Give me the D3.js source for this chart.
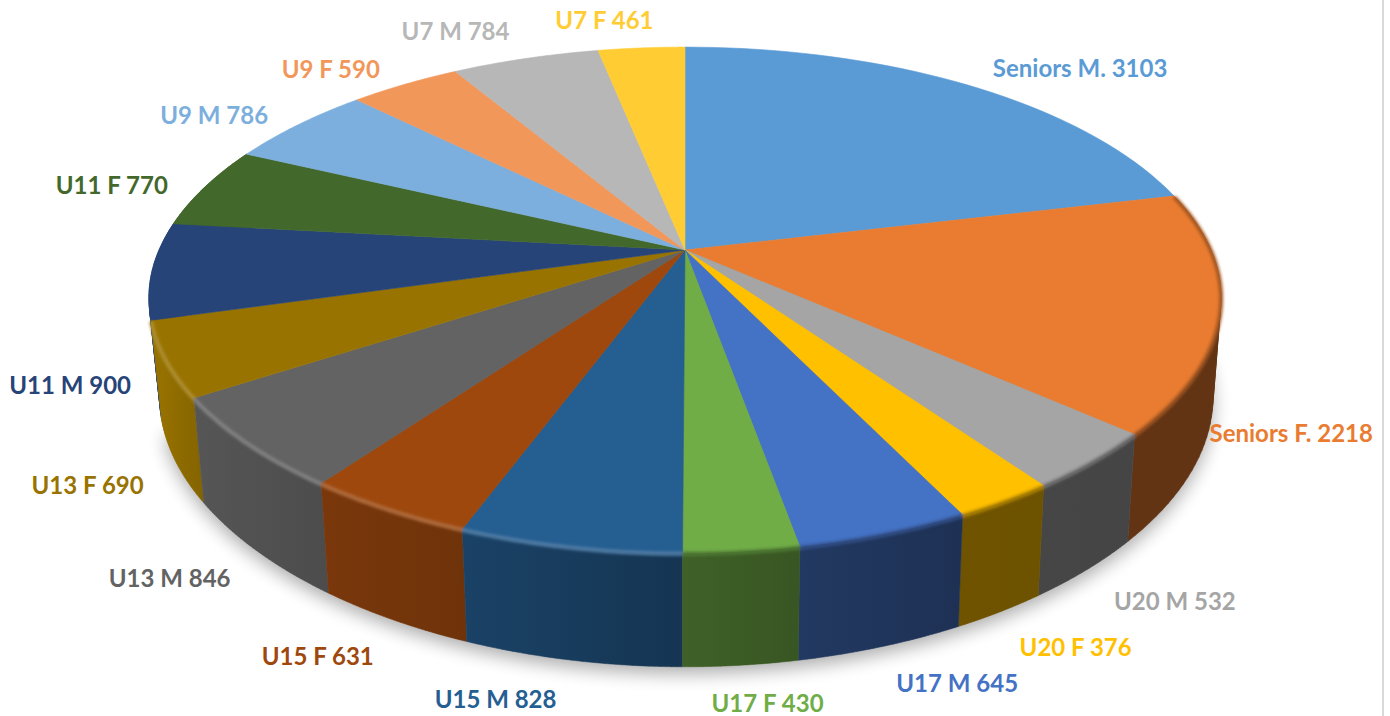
<!DOCTYPE html>
<html>
<head>
<meta charset="utf-8">
<script src="https://cdn.jsdelivr.net/npm/d3@7"></script>
<style>
    html, body { margin: 0; padding: 0; background: #fff; overflow: hidden; }
    text { font-family: Lato, "Open Sans", sans-serif; font-weight: 700; }
</style>
</head>
<body>
<div id="chart"></div>
<script>
// data, clockwise from 12 o'clock
const categories = ["Seniors M.", "Seniors F.", "U20 M", "U20 F", "U17 M", "U17 F", "U15 M", "U15 F",
    "U13 M", "U13 F", "U11 M", "U11 F", "U9 M", "U9 F", "U7 M", "U7 F"];
const players = [3103, 2218, 532, 376, 645, 430, 828, 631, 846, 690, 900, 770, 786, 590, 784, 461];
const colors = ["#5b9bd5", "#e97c30", "#a5a5a5", "#ffc000", "#4472c4", "#70ad47", "#255e91", "#9e480e",
    "#636363", "#997300", "#264478", "#43682b", "#7cafdd", "#f1975a", "#b7b7b7", "#ffcd33"];

// label offset from the middle of each slice's rim
const labelNudge = [[113, -16], [71, 122], [82, 140], [71, 147], [73, 150], [26, 152], [-74, 153], [-70, 148],
    [-78, 136], [-78, 126], [-82, 115], [-93, -2], [-84, -9], [-74, -15], [-70, -27], [-37, -27]];

const width = 1390, height = 716;

// perspective of the pie disc
const cx = 685, cy = 250, scaleX = 526, scaleY = 243, persp = 0.1976;
// bottom edge of the wall, relative to the rim
const wallScaleLeft = 0.98, wallScaleRight = 0.985, wallScaleY = 1.058, wallTop = 346.4;

function rim(a) {
    let u = Math.sin(a), v = -Math.cos(a), w = 1 - persp * v;
    // front of the disc is a bit narrower than plain perspective gives
    let squeeze = v > 0 ? 1 - 0.025 * v * v : 1;
    return [cx + scaleX * u * squeeze / w, cy + scaleY * v / w];
}

function low(a) {
    let p = rim(a);
    let k = p[0] < cx ? wallScaleLeft : wallScaleRight;
    return [cx + (p[0] - cx) * k, wallTop + (p[1] - cy) * wallScaleY];
}

function samples(d) {
    return d3.range(0, 41).map(i => d.startAngle + (d.endAngle - d.startAngle) * i / 40);
}

// wall gets darker from the left of the pie round to the right
const wallShade = d3.scaleLinear()
    .domain([0, 2.4, 2.8, 3.14, 3.6, 4.0, 4.4, 6.3])
    .range([0.42, 0.42, 0.44, 0.56, 0.74, 0.8, 0.98, 0.98])
    .clamp(true);

function shaded(color, k) {
    let c = d3.rgb(color);
    return d3.rgb(c.r * k, c.g * k, c.b * k).formatHex();
}

const svg = d3.select("#chart").append("svg")
    .attr("width", width)
    .attr("height", height);

const defs = svg.append("defs");

defs.append("filter").attr("id", "shadowBlur")
    .attr("x", "-10%").attr("y", "-10%").attr("width", "120%").attr("height", "120%")
    .append("feGaussianBlur").attr("stdDeviation", 9);

defs.append("filter").attr("id", "bevelBlur")
    .attr("x", "-10%").attr("y", "-10%").attr("width", "120%").attr("height", "120%")
    .append("feGaussianBlur").attr("stdDeviation", 1.8);

const slices = d3.pie().sort(null).value(d => d)(players);

const line = d3.line();

// thin rule down the right edge of the picture
svg.append("rect")
    .attr("x", 1382)
    .attr("y", 0)
    .attr("width", 2)
    .attr("height", height)
    .attr("fill", "#d9d9d9");

// soft shadow under the pie, front half only shows
const shadowTurn = d3.range(0, 121).map(i => 1.3 + i / 120 * 3.1);
svg.append("path")
    .attr("d", line(shadowTurn.map(low).map(p => [p[0], p[1] + 7]).concat([[cx, cy]])) + "Z")
    .attr("fill", "#000")
    .attr("opacity", 0.32)
    .attr("filter", "url(#shadowBlur)");

// walls, only the slices that face the viewer, outer ones first
const fromFront = a => Math.abs((a.startAngle + a.endAngle) / 2 - Math.PI);
const frontSlices = slices.filter(d => fromFront(d) < 1.9);
frontSlices.sort((a, b) => fromFront(b) - fromFront(a)).forEach(d => {
    let i = d.index;
    let id = "wall" + i;
    let x1 = low(d.startAngle)[0], x2 = low(d.endAngle)[0];
    let grad = defs.append("linearGradient").attr("id", id)
        .attr("gradientUnits", "userSpaceOnUse")
        .attr("x1", x1).attr("x2", x2 === x1 ? x1 + 1 : x2).attr("y1", 0).attr("y2", 0);
    grad.append("stop").attr("offset", 0).attr("stop-color", shaded(colors[i], wallShade(d.startAngle)));
    grad.append("stop").attr("offset", 1).attr("stop-color", shaded(colors[i], wallShade(d.endAngle)));

    // swept in small quads so the silhouette at the sides stays filled,
    // all wound the same way so one path covers them without seams
    let as = samples(d);
    let quads = as.slice(1).map((a, k) => {
        let quad = [rim(as[k]), rim(a), low(a), low(as[k])];
        if (d3.polygonArea(quad) < 0) quad.reverse();
        return line(quad) + "Z";
    });
    svg.append("path")
        .attr("class", "wall")
        .attr("d", quads.join(""))
        .attr("fill", "url(#" + id + ")")
        .attr("stroke", "url(#" + id + ")")
        .attr("stroke-width", 0.5);
});

// top face
slices.forEach((d, i) => {
    svg.append("path")
        .attr("class", "slice")
        .attr("d", line([[cx, cy]].concat(samples(d).map(rim))) + "Z")
        .attr("fill", colors[i])
        .attr("stroke", colors[i])
        .attr("stroke-width", 0.6);
});

// rounded edge: light on the lower left, dark on the right
const bevel = svg.append("g").attr("filter", "url(#bevelBlur)");
slices.forEach((d, i) => {
    let mid = (d.startAngle + d.endAngle) / 2;
    if (mid > 4.45 || mid < 1) return;
    let c = mid > 3.3 ? d3.interpolateRgb(colors[i], "#fff")(0.2) : shaded(colors[i], mid > 3.1 ? 0.95 : 0.7);
    bevel.append("path")
        .attr("d", line(samples(d).map(a => {
            let p = rim(a);
            return [p[0], p[1] + 1];
        })))
        .attr("fill", "none")
        .attr("stroke", c)
        .attr("stroke-width", 4);
});

// data labels
svg.selectAll(".label")
    .data(slices)
    .enter()
    .append("text")
    .attr("class", "label")
    .attr("x", (d, i) => rim((d.startAngle + d.endAngle) / 2)[0] + labelNudge[i][0])
    .attr("y", (d, i) => rim((d.startAngle + d.endAngle) / 2)[1] + labelNudge[i][1])
    .attr("dy", "0.35em")
    .attr("text-anchor", "middle")
    .attr("font-size", 24)
    .attr("fill", (d, i) => colors[i])
    .text((d, i) => categories[i] + " " + d.value);
</script>
</body>
</html>
